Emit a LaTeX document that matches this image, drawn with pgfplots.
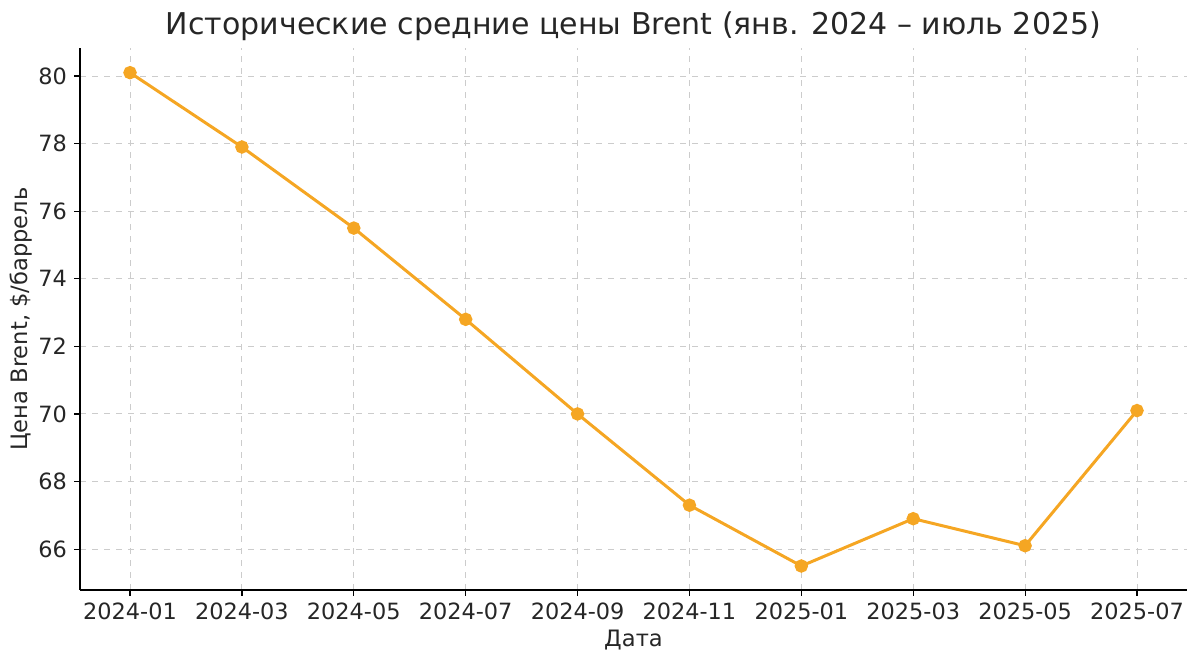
\documentclass[border=0pt]{standalone}
\usepackage{pgfplots}
\pgfplotsset{compat=1.18}
\usepackage{fontspec}
\setmainfont{DejaVu Sans}
\definecolor{lineor}{RGB}{245,166,35}
\definecolor{gridc}{RGB}{204,204,204}
\definecolor{txt}{RGB}{38,38,38}
\begin{document}
\begin{tikzpicture}
\begin{axis}[
  scale only axis,
  width=553.5pt, height=271pt,
  xmin=-0.447, xmax=9.447,
  ymin=64.79, ymax=80.83,
  xtick={0,...,9},
  xticklabels={2024-01,2024-03,2024-05,2024-07,2024-09,2024-11,2025-01,2025-03,2025-05,2025-07},
  ytick={66,68,...,80},
  axis x line*=bottom, axis y line*=left,
  axis line style={line width=0.75pt, black, -},
  tick align=outside,
  major tick length=3pt,
  every tick/.style={black, line width=0.6pt},
  grid=major,
  major grid style={gridc, dashed, line width=0.45pt},
  /pgf/number format/assume math mode=true,
  tick label style={font=\fontsize{11.2}{13}\selectfont, text=txt},
  xlabel={Дата}, ylabel={Цена Brent, \$/баррель},
  label style={font=\fontsize{11.3}{13}\selectfont, text=txt},
  title={Исторические средние цены Brent (янв. 2024 – июль 2025)},
  title style={font=\fontsize{15}{18}\selectfont, text=txt, yshift=-6pt},
  xlabel style={yshift=2pt},
  ylabel style={yshift=-4pt},
]
\addplot[color=lineor, line width=1.5pt, mark=*, mark size=2.6pt, mark options={fill=lineor, draw=lineor}]
coordinates {(0,80.1)(1,77.9)(2,75.5)(3,72.8)(4,70.0)(5,67.3)(6,65.5)(7,66.9)(8,66.1)(9,70.1)};
\end{axis}
\pgfresetboundingbox
\path ([xshift=-40pt,yshift=-36.5pt]current axis.south west) rectangle ([xshift=6.5pt,yshift=24pt]current axis.north east);
\end{tikzpicture}
\end{document}
